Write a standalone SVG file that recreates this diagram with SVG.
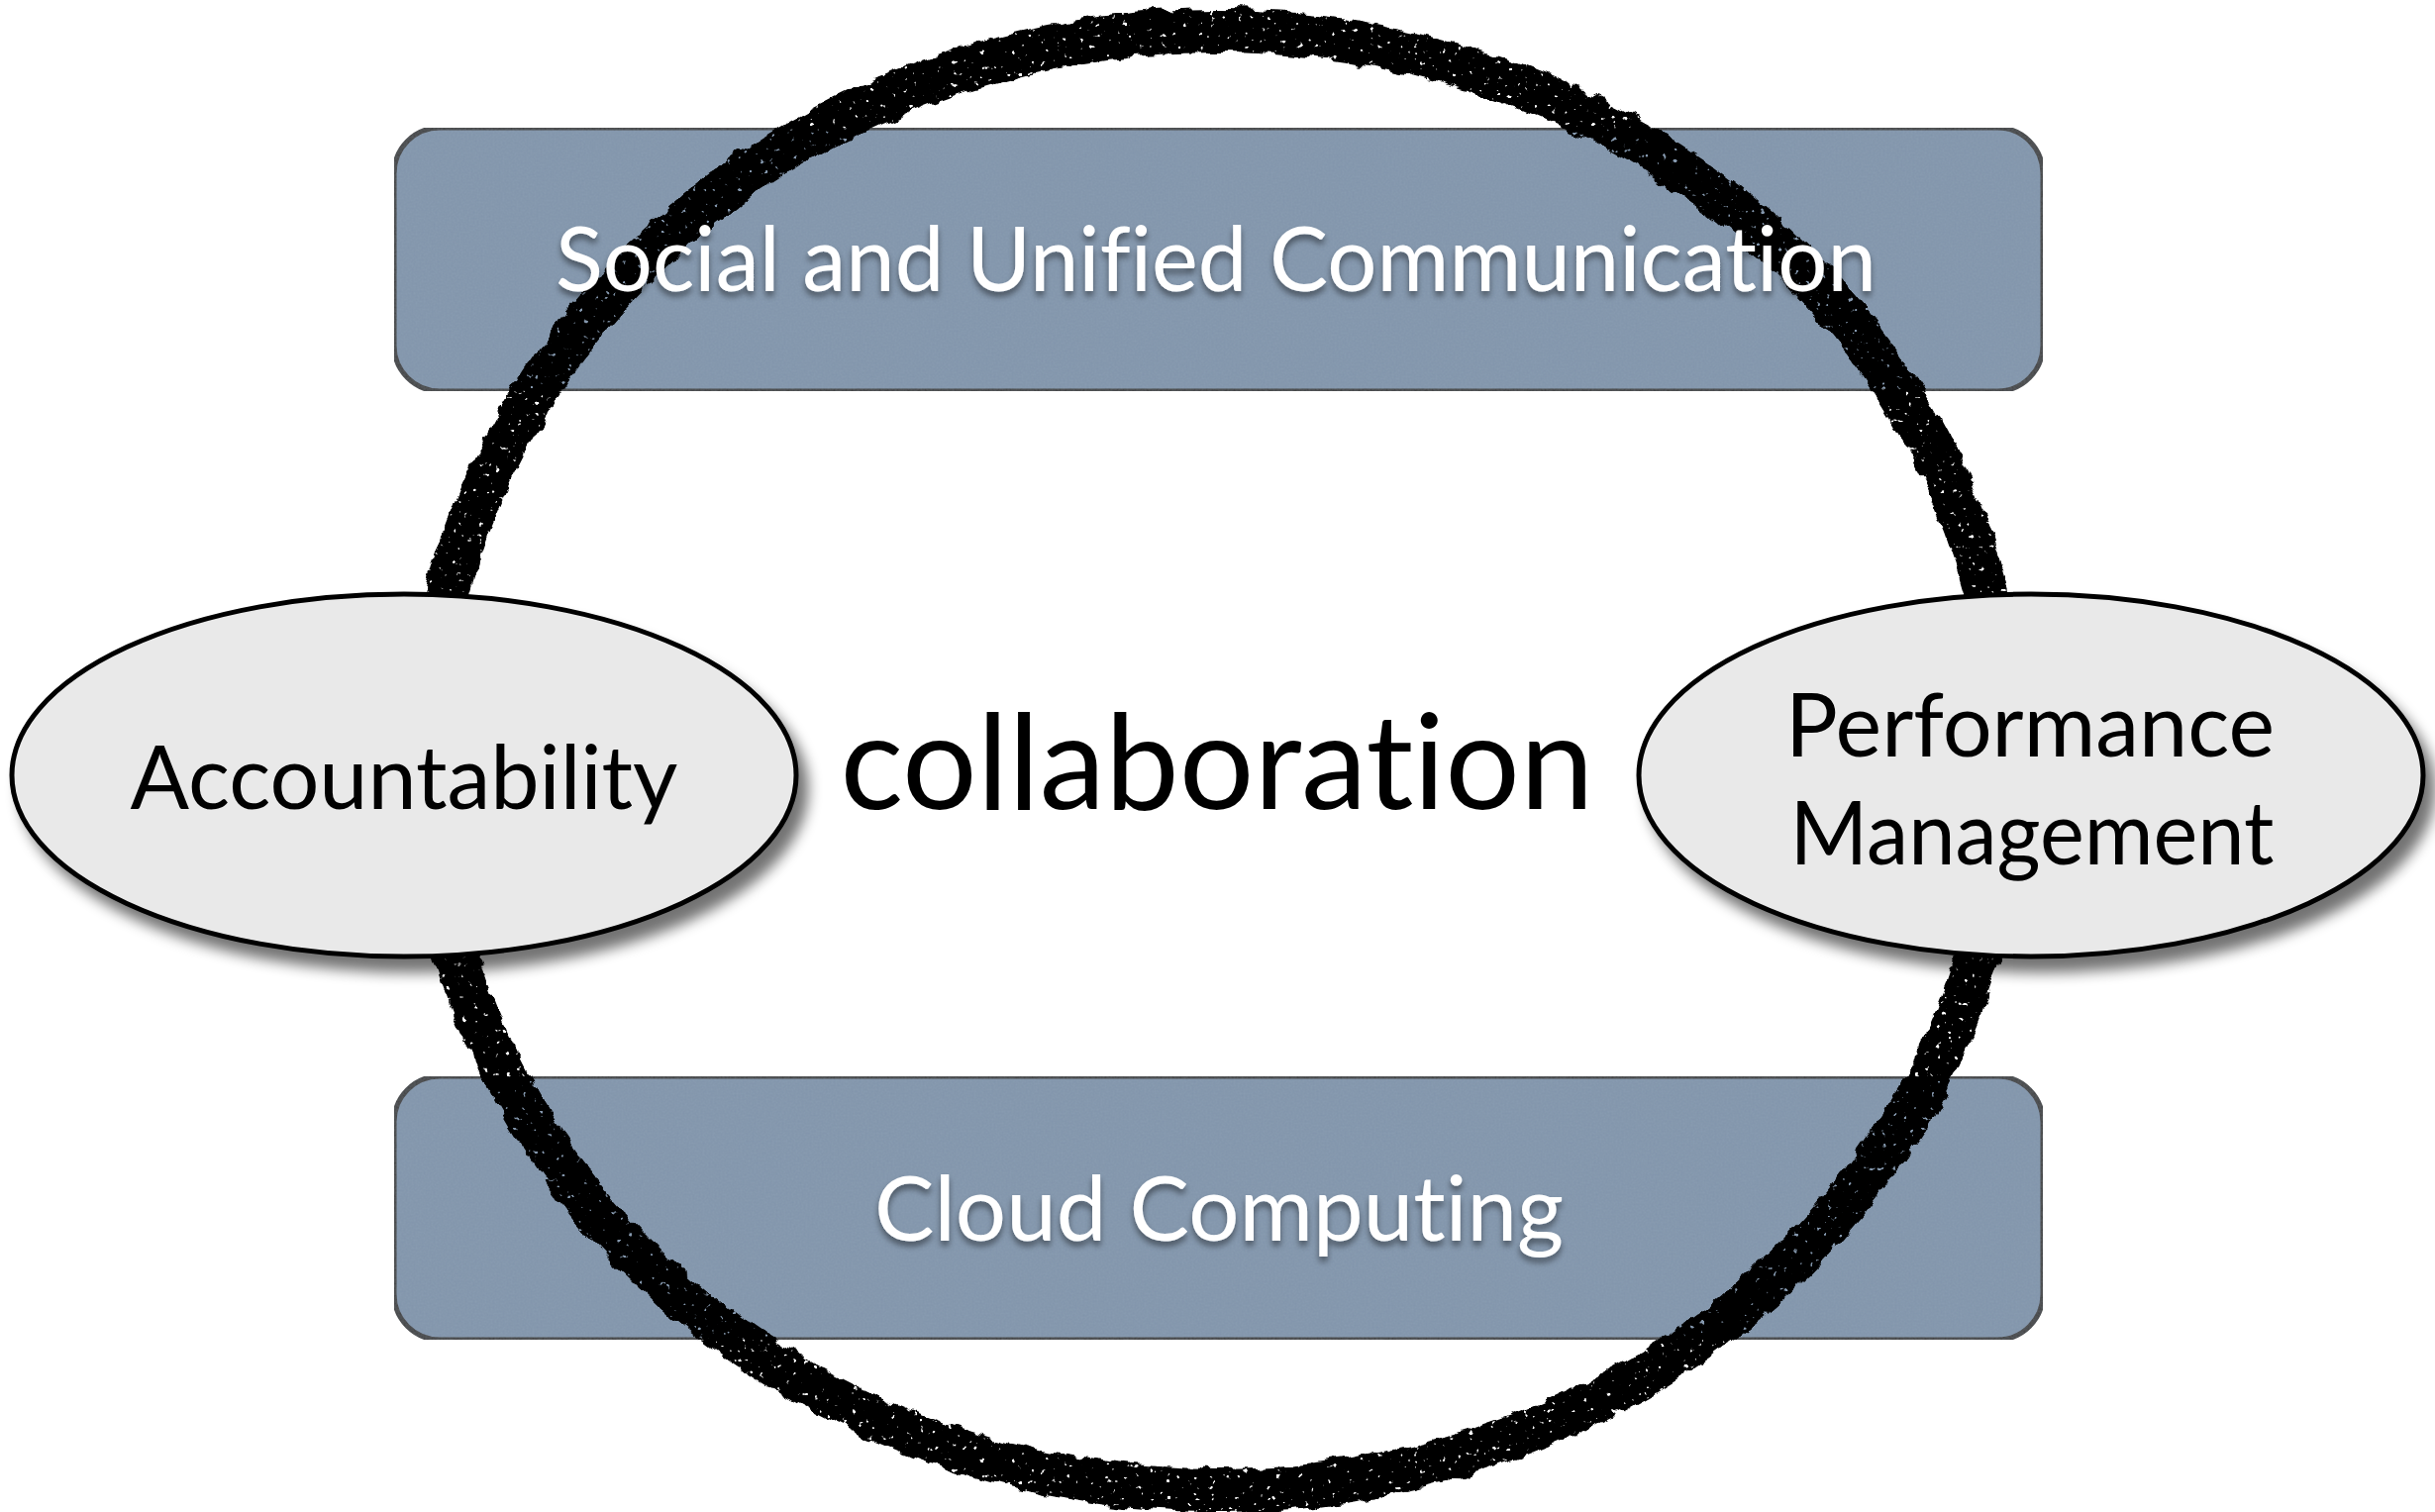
<svg xmlns="http://www.w3.org/2000/svg" width="2459" height="1527" viewBox="0 0 2459 1527">
  <defs>
    <filter id="rough" x="-5%" y="-5%" width="110%" height="110%">
      <feTurbulence type="fractalNoise" baseFrequency="0.045" numOctaves="3" seed="7" result="n"/>
      <feDisplacementMap in="SourceGraphic" in2="n" scale="14" xChannelSelector="R" yChannelSelector="G" result="d"/>
      <feTurbulence type="fractalNoise" baseFrequency="0.18" numOctaves="2" seed="11" result="s"/>
      <feColorMatrix in="s" type="matrix" values="0 0 0 0 0  0 0 0 0 0  0 0 0 0 0  12 0 0 0 -8.4" result="holes"/>
      <feComposite in="d" in2="holes" operator="out"/>
    </filter>
    <filter id="tex" x="0" y="0" width="100%" height="100%">
      <feTurbulence type="fractalNoise" baseFrequency="0.5" numOctaves="2" seed="2" result="t"/>
      <feColorMatrix in="t" type="matrix" values="0 0 0 0 0.5  0 0 0 0 0.58  0 0 0 0 0.67  0 0 0 0.12 0" result="tc"/>
      <feComposite in="tc" in2="SourceGraphic" operator="in" result="tm"/>
      <feMerge><feMergeNode in="SourceGraphic"/><feMergeNode in="tm"/></feMerge>
    </filter>
    <filter id="oshadow" x="-10%" y="-10%" width="125%" height="135%">
      <feGaussianBlur in="SourceAlpha" stdDeviation="7"/>
      <feOffset dx="10" dy="14" result="b"/>
      <feComponentTransfer in="b" result="bs"><feFuncA type="linear" slope="0.55"/></feComponentTransfer>
      <feMerge><feMergeNode in="bs"/><feMergeNode in="SourceGraphic"/></feMerge>
    </filter>
    <filter id="tshadow" x="-5%" y="-20%" width="110%" height="150%">
      <feGaussianBlur in="SourceAlpha" stdDeviation="3"/>
      <feOffset dx="0" dy="5" result="b"/>
      <feComponentTransfer in="b" result="bs"><feFuncA type="linear" slope="0.45"/></feComponentTransfer>
      <feMerge><feMergeNode in="bs"/><feMergeNode in="SourceGraphic"/></feMerge>
    </filter>
    <style>
      text { font-variant-ligatures: none; font-feature-settings: "liga" 0, "clig" 0; }
      .bar { fill: #8194ab; stroke: #404040; stroke-width: 5; }
      .barText { font-family: Lato, "Liberation Sans", sans-serif; font-size: 92px; fill: #ffffff; text-anchor: middle; }
      .oval { fill: #e9e9e9; stroke: #000000; stroke-width: 5; }
      .ovalText { font-family: Lato, "Liberation Sans", sans-serif; font-size: 90px; fill: #000000; text-anchor: middle; }
      .center { font-family: Lato, "Liberation Sans", sans-serif; font-size: 134px; fill: #000000; text-anchor: middle; }
    </style>
  </defs>
  <rect width="2459" height="1527" fill="#ffffff"/>

  <g id="node-social-bar">
    <rect class="bar" x="398" y="129" width="1665" height="266" rx="46" ry="46" filter="url(#tex)"/>
  </g>
  <g id="node-cloud-bar">
    <rect class="bar" x="398" y="1087" width="1665" height="266" rx="46" ry="46" filter="url(#tex)"/>
  </g>

  <g id="ring">
    <ellipse cx="1229" cy="768" rx="798" ry="737" fill="none" stroke="#000000" stroke-width="44" filter="url(#rough)"/>
  </g>

  <g id="node-social-text" filter="url(#tshadow)">
    <text class="barText" x="1228" y="294" textLength="1334" lengthAdjust="spacingAndGlyphs">Social and Unified Communication</text>
  </g>
  <g id="node-cloud-text" filter="url(#tshadow)">
    <text class="barText" x="1231" y="1253" textLength="696" lengthAdjust="spacingAndGlyphs">Cloud Computing</text>
  </g>

  <g id="node-accountability">
    <ellipse class="oval" cx="408" cy="783" rx="396" ry="183" filter="url(#oshadow)"/>
    <text class="ovalText" x="408" y="817" textLength="553" lengthAdjust="spacingAndGlyphs">Accountability</text>
  </g>
  <g id="node-performance">
    <ellipse class="oval" cx="2051" cy="783" rx="396" ry="183" filter="url(#oshadow)"/>
    <text class="ovalText" x="2050" y="764" textLength="494" lengthAdjust="spacingAndGlyphs">Performance</text>
    <text class="ovalText" x="2052" y="873" textLength="489" lengthAdjust="spacingAndGlyphs">Management</text>
  </g>

  <g id="node-collaboration">
    <text class="center" x="1229" y="817" textLength="761" lengthAdjust="spacingAndGlyphs">collaboration</text>
  </g>

  <g id="connectors"/>
</svg>
